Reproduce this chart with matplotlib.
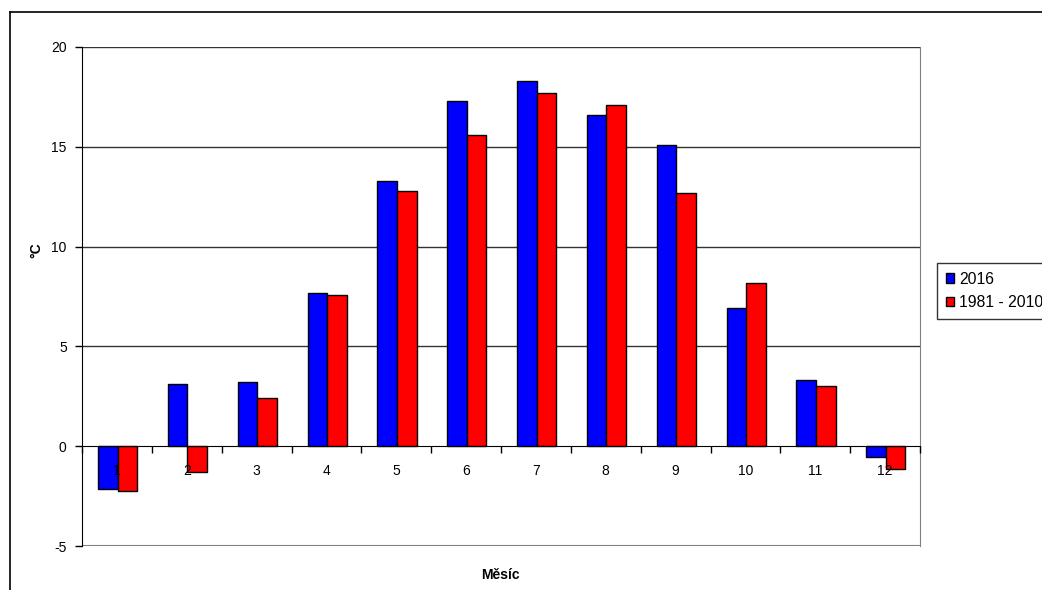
import matplotlib
matplotlib.use("Agg")
import matplotlib.pyplot as plt
import numpy as np
from matplotlib.lines import Line2D
from matplotlib.ticker import FixedLocator

months = ["1", "2", "3", "4", "5", "6", "7", "8", "9", "10", "11", "12"]
t2016 = [-2.15, 3.1, 3.2, 7.7, 13.3, 17.3, 18.3, 16.6, 15.1, 6.9, 3.3, -0.55]
t_norm = [-2.25, -1.3, 2.4, 7.6, 12.8, 15.6, 17.7, 17.1, 12.7, 8.2, 3.0, -1.15]
yticks = [-5, 0, 5, 10, 15, 20]

plt.rcParams['font.family'] = ['Liberation Sans', 'DejaVu Sans']

W, H = 1042, 590
fig = plt.figure(figsize=(W / 100, H / 100), dpi=100)
ax = fig.add_axes([82 / W, (H - 546) / H, 838 / W, 499 / H])
ax.set_axisbelow(False)

x = np.arange(1, len(months) + 1)
bw = 0.28
ax.bar(x - bw / 2 + 0.01, t2016, width=bw, color='#0000ff', edgecolor='black', linewidth=1, label='2016', zorder=2)
ax.bar(x + bw / 2 + 0.01, t_norm, width=bw, color='#ff0000', edgecolor='black', linewidth=1, label='1981 - 2010', zorder=2)

ax.set_xlim(0.5, len(months) + 0.5)
ax.set_ylim(-5, 20)
ax.set_yticks(yticks)
ax.set_yticklabels([str(v) for v in yticks], fontsize=10)
ax.tick_params(axis='y', direction='out', length=5, width=1, color='black', pad=6)

for v in [5, 10, 15, 20]:
    ax.axhline(v, color='#333333', linewidth=1, zorder=1)

ax.spines['bottom'].set_position(('data', 0))
ax.spines['bottom'].set_color('black')
ax.spines['top'].set_visible(False)
ax.spines['right'].set_color('#808080')
ax.spines['left'].set_color('black')
ax.axhline(-5, color='#808080', linewidth=1.5, zorder=1)

ax.set_xticks(x)
ax.set_xticklabels(months, fontsize=10)
ax.tick_params(axis='x', which='major', length=0, pad=13)
ax.xaxis.set_minor_locator(FixedLocator(np.arange(0.5, len(months) + 1, 1.0)))
ax.tick_params(axis='x', which='minor', length=5, width=1, direction='out', color='black')

fig.text(500 / W, 1 - 575 / H, 'Měsíc', ha='center', va='center', fontsize=10, fontweight='bold')
fig.text(36 / W, 1 - 250 / H, '°C', ha='center', va='center', fontsize=10, fontweight='bold', rotation=90)

leg = fig.legend(loc='upper left', bbox_to_anchor=(937 / W, 1 - 263 / H), frameon=True, fancybox=False,
                 edgecolor='black', fontsize=11.3, handlelength=0.55, handleheight=0.55, handletextpad=0.3,
                 borderpad=0.55, labelspacing=0.55, borderaxespad=0)
leg.get_frame().set_linewidth(1)

# outer border
fig.add_artist(Line2D([10 / W, 10 / W], [1 - 12 / H, -0.1], transform=fig.transFigure, color='black', linewidth=1.2))
fig.add_artist(Line2D([10 / W, 1.1], [1 - 12 / H, 1 - 12 / H], transform=fig.transFigure, color='black', linewidth=1.2))

fig.savefig('out.png', dpi=100)
